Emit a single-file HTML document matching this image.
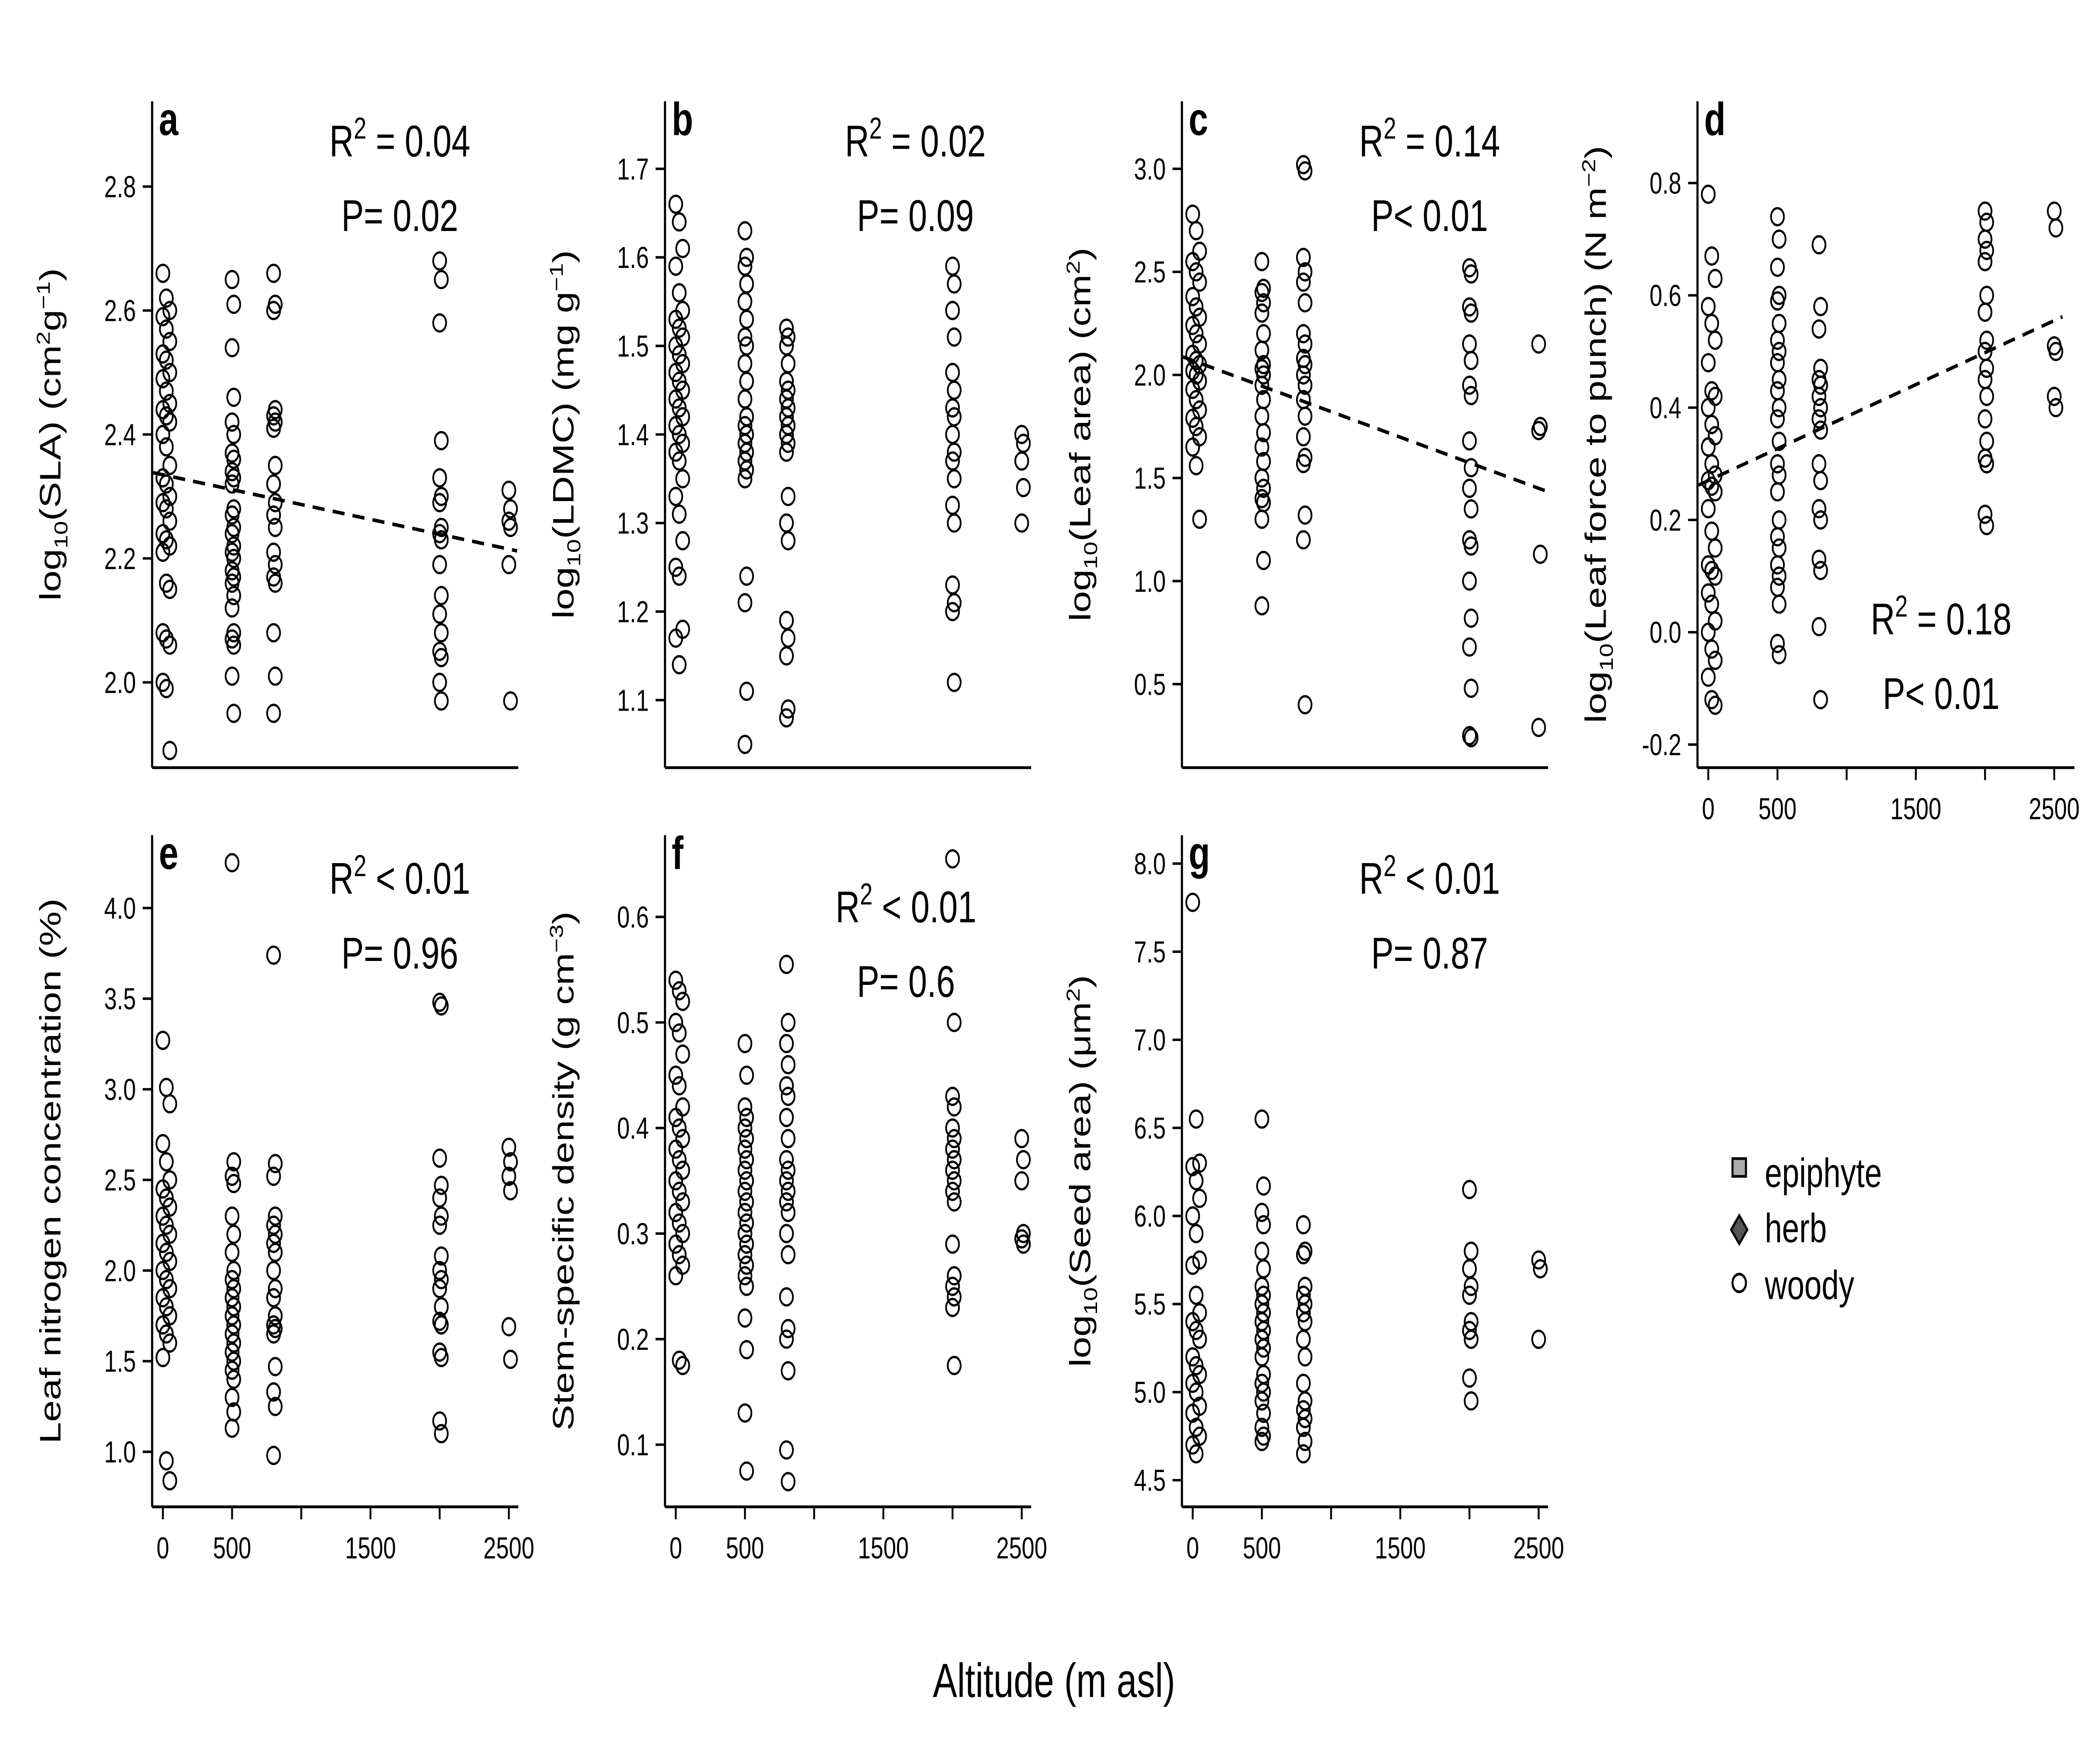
<!DOCTYPE html>
<html><head><meta charset="utf-8">
<style>html,body{margin:0;padding:0;background:#fff;overflow:hidden;width:100%;height:100%}svg{display:block;width:100vw;height:100vh}text{font-family:"Liberation Sans",sans-serif;fill:#000}</style>
</head><body>
<svg id="fig" xmlns="http://www.w3.org/2000/svg" viewBox="0 0 1560 992.7" preserveAspectRatio="none">
<rect width="1560" height="992.7" fill="#fff"/>
<text x="783" y="955" font-size="27" text-anchor="middle">Altitude (m asl)</text>
<g>
  <rect x="1287" y="652" width="10" height="10" fill="#aaa" stroke="#000" stroke-width="1.5"/>
  <text x="1311" y="668" font-size="23">epiphyte</text>
  <polygon points="1292,684 1298,692 1292,700 1286,692" fill="#555" stroke="#000" stroke-width="1.5"/>
  <text x="1311" y="699" font-size="23">herb</text>
  <circle cx="1292" cy="722" r="5" fill="none" stroke="#000" stroke-width="1.5"/>
  <text x="1311" y="731" font-size="23">woody</text>
</g>
</svg>
<script>
const sites = [0, 500, 800, 2000, 2500];
const xTicks = [0, 500, 1000, 1500, 2000, 2500];
const xTickLabels = ["0", "500", "", "1500", "", "2500"];

const slaVals = [
 [2.66,2.62,2.60,2.59,2.57,2.55,2.53,2.52,2.50,2.49,2.47,2.45,2.44,2.43,2.42,2.40,2.38,2.35,2.33,2.32,2.30,2.29,2.28,2.26,2.24,2.23,2.22,2.21,2.16,2.15,2.08,2.07,2.06,2.00,1.99,1.89],
 [2.65,2.61,2.54,2.46,2.42,2.40,2.37,2.36,2.34,2.33,2.32,2.28,2.27,2.25,2.24,2.22,2.21,2.20,2.18,2.17,2.16,2.14,2.12,2.08,2.07,2.06,2.01,1.95],
 [2.66,2.61,2.60,2.44,2.43,2.42,2.41,2.35,2.32,2.29,2.27,2.25,2.21,2.19,2.17,2.16,2.08,2.01,1.95],
 [2.68,2.65,2.58,2.39,2.33,2.30,2.29,2.25,2.24,2.23,2.19,2.14,2.11,2.08,2.05,2.04,2.00,1.97],
 [2.31,2.28,2.26,2.25,2.19,1.97]];
const ldmcVals = [
 [1.66,1.64,1.61,1.59,1.56,1.54,1.53,1.52,1.51,1.50,1.49,1.48,1.47,1.46,1.45,1.44,1.43,1.42,1.41,1.40,1.39,1.38,1.37,1.35,1.33,1.31,1.28,1.25,1.24,1.18,1.17,1.14],
 [1.63,1.60,1.59,1.57,1.55,1.53,1.51,1.50,1.48,1.46,1.44,1.42,1.41,1.40,1.39,1.38,1.37,1.36,1.35,1.24,1.21,1.11,1.05],
 [1.52,1.51,1.50,1.48,1.46,1.45,1.44,1.43,1.42,1.41,1.40,1.39,1.38,1.33,1.30,1.28,1.19,1.17,1.15,1.09,1.08],
 [1.59,1.57,1.54,1.51,1.47,1.45,1.43,1.42,1.40,1.38,1.37,1.35,1.32,1.30,1.23,1.21,1.20,1.12],
 [1.40,1.39,1.37,1.34,1.30]];
const areaVals = [
 [2.78,2.70,2.60,2.55,2.50,2.45,2.38,2.33,2.28,2.24,2.20,2.15,2.10,2.07,2.05,2.02,2.00,1.97,1.93,1.88,1.83,1.79,1.75,1.70,1.65,1.56,1.30],
 [2.55,2.42,2.40,2.35,2.30,2.20,2.12,2.05,2.03,2.00,1.95,1.88,1.80,1.72,1.65,1.58,1.50,1.45,1.40,1.38,1.30,1.10,0.88],
 [3.02,2.99,2.57,2.50,2.45,2.35,2.20,2.15,2.08,2.05,2.00,1.95,1.88,1.80,1.70,1.60,1.57,1.32,1.20,0.40],
 [2.52,2.49,2.33,2.30,2.15,2.07,1.95,1.90,1.68,1.55,1.45,1.35,1.20,1.17,1.00,0.82,0.68,0.48,0.25,0.24],
 [2.15,1.75,1.73,1.13,0.29]];
const punchVals = [
 [0.78,0.67,0.63,0.58,0.55,0.52,0.48,0.43,0.42,0.40,0.37,0.35,0.33,0.30,0.28,0.27,0.26,0.25,0.22,0.18,0.15,0.12,0.11,0.10,0.07,0.05,0.02,0.00,-0.03,-0.05,-0.08,-0.12,-0.13],
 [0.74,0.70,0.65,0.60,0.59,0.55,0.52,0.50,0.48,0.45,0.43,0.40,0.38,0.34,0.30,0.28,0.25,0.20,0.17,0.15,0.12,0.10,0.08,0.05,-0.02,-0.04],
 [0.69,0.58,0.54,0.47,0.45,0.44,0.42,0.40,0.38,0.36,0.30,0.27,0.22,0.20,0.13,0.11,0.01,-0.12],
 [0.75,0.73,0.70,0.68,0.66,0.60,0.57,0.52,0.50,0.47,0.45,0.42,0.38,0.34,0.31,0.30,0.21,0.19],
 [0.75,0.72,0.51,0.50,0.42,0.40]];
const nitroVals = [
 [3.27,3.01,2.92,2.70,2.60,2.50,2.45,2.40,2.35,2.30,2.25,2.20,2.15,2.10,2.05,2.00,1.95,1.90,1.85,1.80,1.75,1.70,1.65,1.60,1.52,0.95,0.84],
 [4.25,2.60,2.52,2.48,2.30,2.20,2.10,2.00,1.95,1.90,1.85,1.80,1.75,1.70,1.65,1.60,1.55,1.50,1.45,1.40,1.30,1.22,1.13],
 [3.74,2.59,2.52,2.30,2.25,2.20,2.15,2.10,2.00,1.90,1.85,1.75,1.70,1.68,1.65,1.47,1.33,1.25,0.98],
 [3.48,3.46,2.62,2.47,2.40,2.30,2.25,2.08,2.00,1.95,1.90,1.80,1.72,1.70,1.55,1.52,1.17,1.10],
 [2.68,2.60,2.52,2.44,1.69,1.51]];
const densVals = [
 [0.54,0.53,0.52,0.50,0.49,0.47,0.45,0.44,0.42,0.41,0.40,0.39,0.38,0.37,0.36,0.35,0.34,0.33,0.32,0.31,0.30,0.29,0.28,0.27,0.26,0.18,0.175],
 [0.48,0.45,0.42,0.41,0.40,0.39,0.38,0.37,0.36,0.35,0.34,0.33,0.32,0.31,0.30,0.29,0.28,0.27,0.26,0.25,0.22,0.19,0.13,0.075],
 [0.555,0.50,0.48,0.46,0.44,0.43,0.41,0.39,0.37,0.36,0.35,0.34,0.33,0.32,0.30,0.28,0.24,0.21,0.20,0.17,0.095,0.065],
 [0.655,0.50,0.43,0.42,0.40,0.39,0.38,0.37,0.36,0.35,0.34,0.33,0.29,0.26,0.25,0.24,0.23,0.175],
 [0.39,0.37,0.35,0.30,0.295,0.29]];
const seedVals = [
 [7.78,6.55,6.30,6.28,6.20,6.10,6.00,5.90,5.75,5.72,5.55,5.45,5.40,5.35,5.30,5.20,5.15,5.10,5.05,5.00,4.92,4.88,4.80,4.75,4.70,4.65],
 [6.55,6.17,6.02,5.95,5.80,5.70,5.60,5.55,5.50,5.45,5.40,5.35,5.30,5.25,5.20,5.10,5.05,5.00,4.95,4.88,4.80,4.75,4.72],
 [5.95,5.80,5.78,5.60,5.55,5.50,5.45,5.40,5.30,5.20,5.05,4.95,4.90,4.85,4.80,4.72,4.65],
 [6.15,5.80,5.70,5.60,5.55,5.40,5.35,5.30,5.08,4.95],
 [5.75,5.70,5.30]];

const yTicksA = [2.0,2.2,2.4,2.6,2.8];
const yTicksB = [1.1,1.2,1.3,1.4,1.5,1.6,1.7];
const yTicksC = [0.5,1.0,1.5,2.0,2.5,3.0];
const yTicksD = [-0.2,0.0,0.2,0.4,0.6,0.8];
const yTicksE = [1.0,1.5,2.0,2.5,3.0,3.5,4.0];
const yTicksF = [0.1,0.2,0.3,0.4,0.5,0.6];
const yTicksG = [4.5,5.0,5.5,6.0,6.5,7.0,7.5,8.0];

const trendA = [2.335, 2.215];
const trendC = [2.07, 1.45];
const trendD = [0.27, 0.555];

const NS = "http://www.w3.org/2000/svg";
const fig = document.getElementById('fig');
function mk(tag, attrs, parent){const e=document.createElementNS(NS,tag);for(const k in attrs)e.setAttribute(k,attrs[k]);(parent||fig).appendChild(e);return e;}

const panels = [
 {id:'a',ax:113,top:57,bot:432,vals:slaVals,ticks:yTicksA,dec:1,v1:2.0,y1:384,v2:2.8,y2:105,xticks:false,trend:trendA,tx:297,ty:80,r2:' = 0.04',p:'P= 0.02',title:'sla'},
 {id:'b',ax:494,top:57,bot:432,vals:ldmcVals,ticks:yTicksB,dec:1,v1:1.1,y1:394,v2:1.7,y2:95,xticks:false,trend:null,tx:680,ty:80,r2:' = 0.02',p:'P= 0.09',title:'ldmc'},
 {id:'c',ax:878,top:57,bot:432,vals:areaVals,ticks:yTicksC,dec:1,v1:0.5,y1:385,v2:3.0,y2:95,xticks:false,trend:trendC,tx:1062,ty:80,r2:' = 0.14',p:'P< 0.01',title:'area'},
 {id:'d',ax:1261,top:57,bot:432,vals:punchVals,ticks:yTicksD,dec:1,v1:-0.2,y1:419,v2:0.8,y2:103,xticks:true,trend:trendD,tx:1442,ty:349,r2:' = 0.18',p:'P< 0.01',title:'punch'},
 {id:'e',ax:113,top:470,bot:848,vals:nitroVals,ticks:yTicksE,dec:1,v1:1.0,y1:817,v2:4.0,y2:511,xticks:true,trend:null,tx:297,ty:495,r2:' < 0.01',p:'P= 0.96',title:'nitro'},
 {id:'f',ax:494,top:470,bot:848,vals:densVals,ticks:yTicksF,dec:1,v1:0.1,y1:813,v2:0.6,y2:516,xticks:true,trend:null,tx:673,ty:511,r2:' < 0.01',p:'P= 0.6',title:'dens'},
 {id:'g',ax:878,top:470,bot:848,vals:seedVals,ticks:yTicksG,dec:1,v1:4.5,y1:833,v2:8.0,y2:486,xticks:true,trend:null,tx:1062,ty:495,r2:' < 0.01',p:'P= 0.87',title:'seed'}
];
const xScale = 0.1028;
const jitter = [0, 25, 50];

panels.forEach(P=>{
  const g = mk('g',{});
  
  
  const X = a => P.ax + 8 + a*xScale;
  const Y = v => P.y1 + (v-P.v1)*(P.y2-P.y1)/(P.v2-P.v1);
  const yax = mk('line',{x1:P.ax,y1:P.top,x2:P.ax,y2:P.bot,stroke:'#000','stroke-width':1.6},g);
  
  
  const xEnd = P.id==='d' ? P.ax+280 : P.ax+272;
  const xax = mk('line',{x1:P.ax,y1:P.bot,x2:xEnd,y2:P.bot,stroke:'#000','stroke-width':1.6},g);
  
  
  P.ticks.forEach(t=>{
    const y=Y(t);
    mk('line',{x1:P.ax-7,y1:y,x2:P.ax,y2:y,stroke:'#000','stroke-width':1.4},g);
    const tl = mk('text',{x:P.ax-12,y:y+6,'font-size':17,'text-anchor':'end'},g);
    tl.textContent = t.toFixed(P.dec);
    
    
  });
  if(P.xticks){
    xTicks.forEach((t,i)=>{
      const x=X(t);
      mk('line',{x1:x,y1:P.bot,x2:x,y2:P.bot+7,stroke:'#000','stroke-width':1.4},g);
      if(xTickLabels[i]){
        const tl = mk('text',{x:x,y:P.bot+29,'font-size':17,'text-anchor':'middle'},g);
        tl.textContent = xTickLabels[i];
        
        
      }
    });
  }
  P.vals.forEach((arr,si)=>{
    arr.forEach((v,i)=>{
      const alt = sites[si] + (si===0 ? jitter[i%3] : (i%2)*12);
      const c = mk('circle',{cx:X(alt),cy:Y(v),r:4.8,fill:'none',stroke:'#000','stroke-width':1.3},g);
      
      
    });
  });
  if(P.trend){
    const a0=-70, a1=2560;
    const f = a => P.trend[0] + (P.trend[1]-P.trend[0])*a/2500;
    const tl = mk('line',{x1:X(a0),y1:Y(f(a0)),x2:X(a1),y2:Y(f(a1)),stroke:'#000','stroke-width':2,'stroke-dasharray':'9,6'},g);
    
    
  }
  const lab = mk('text',{x:P.ax+5,y:P.top+19,'font-size':26,'font-weight':'bold'},g);
  lab.textContent = P.id;
  
  
  const r2 = mk('text',{x:P.tx,y:P.ty+8,'font-size':25,'text-anchor':'middle'},g);
  
  
  r2.appendChild(document.createTextNode('R'));
  const sup = mk('tspan',{dy:-10,'font-size':17},r2); sup.textContent='2';
  const rest = mk('tspan',{dy:10},r2); rest.textContent=P.r2;
  const pv = mk('text',{x:P.tx,y:P.ty+50,'font-size':25,'text-anchor':'middle'},g);
  pv.textContent = P.p;
  
  
  const cy = (P.top+P.bot)/2;
  const tx = P.ax-68;
  const tt = mk('text',{x:0,y:0,'font-size':22,'text-anchor':'middle',transform:`translate(${tx},${cy}) rotate(-90)`},g);
  
  
  const parts = {
    sla:[['log'],['10',5,14],['(SLA) (cm',-5],['2',-8,14],['g',8],['\u22121',-8,14],[')',8]],
    ldmc:[['log'],['10',5,14],['(LDMC) (mg g',-5],['\u22121',-8,14],[')',8]],
    area:[['log'],['10',5,14],['(Leaf area) (cm',-5],['2',-8,14],[')',8]],
    punch:[['log'],['10',5,14],['(Leaf force to punch) (N m',-5],['\u22122',-8,14],[')',8]],
    nitro:[['Leaf nitrogen concentration (%)']],
    dens:[['Stem-specific density (g cm'],['\u22123',-8,14],[')',8]],
    seed:[['log'],['10',5,14],['(Seed area) (\u03bcm',-5],['2',-8,14],[')',8]]
  }[P.title];
  parts.forEach(pt=>{
    const s = mk('tspan',{},tt);
    if(pt[1]) s.setAttribute('dy',pt[1]);
    if(pt[2]) s.setAttribute('font-size',pt[2]);
    s.textContent = pt[0];
  });
});
</script>
</body></html>
